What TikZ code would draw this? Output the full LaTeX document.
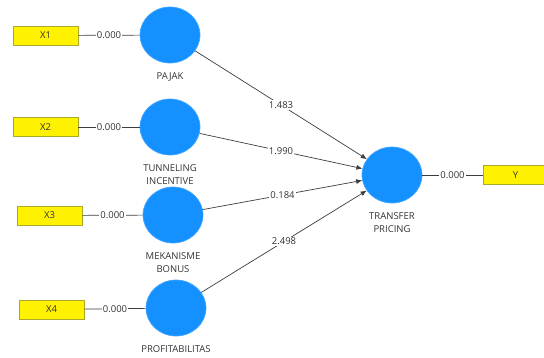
\documentclass[tikz,border=0pt]{standalone}
\usepackage{fontspec}
\setmainfont{Open Sans}
\usepackage{tikz}
\definecolor{lvblue}{RGB}{20,145,255}
\definecolor{boxedge}{RGB}{170,170,40}
\definecolor{linegray}{RGB}{60,60,60}
\definecolor{txtgray}{RGB}{50,50,50}
\tikzstyle{latent} = [ellipse, fill=lvblue, draw=lvblue!80,
    minimum width=60pt, minimum height=56pt, inner sep=0pt]
\tikzstyle{indicator} = [rectangle, fill=yellow, draw=boxedge,
    minimum width=65pt, minimum height=19pt, inner sep=0pt,
    text=txtgray, font=\fontsize{9.5}{10}\selectfont]
\tikzstyle{coef} = [fill=white, inner sep=1pt, text=txtgray,
    font=\fontsize{9.5}{10}\selectfont]
\usetikzlibrary{arrows.meta}
\tikzset{>={Latex[length=6pt,width=5pt]}}
\usetikzlibrary{shapes.geometric}

\begin{document}
\begin{tikzpicture}[x=1pt, y=-1pt, line width=0.7pt, draw=linegray,
    every label/.style={align=center, text=txtgray, inner sep=1pt,
        font=\fontsize{9.5}{12.5}\selectfont}]
\useasboundingbox (0,0) rectangle (544,357);
    %constructs
    \node[latent, label={[label distance=8pt]below:PAJAK}] (pajak) at (170,35) {};
    \node[latent, label={[label distance=8pt]below:TUNNELING\\INCENTIVE}] (tunnel) at (170,127) {};
    \node[latent, label={[label distance=8pt]below:MEKANISME\\BONUS}] (bonus) at (173,215) {};
    \node[latent, label={[label distance=8pt]below:PROFITABILITAS}] (profit) at (176,308) {};
    \node[latent, label={[label distance=8pt]below:TRANSFER\\PRICING}] (tp) at (392,175) {};
    %indicators
    \node[indicator] (x1) at (45.5,35.5) {X1};
    \node[indicator] (x2) at (45.5,127) {X2};
    \node[indicator] (x3) at (49.5,215.5) {X3};
    \node[indicator] (x4) at (51.5,309.5) {X4};
    \node[indicator] (y) at (515.5,175) {Y};
    %loadings
    \draw (x1) -- node[coef] {0.000} (pajak);
    \draw (x2) -- node[coef] {0.000} (tunnel);
    \draw (x3) -- node[coef] {0.000} (bonus);
    \draw (x4) -- node[coef] {0.000} (profit);
    \draw (tp) -- node[coef] {0.000} (y);
    %paths
    \draw[->] (pajak) -- node[coef] {1.483} (tp);
    \draw[->] (tunnel) -- node[coef] {1.990} (tp);
    \draw[->] (bonus) -- node[coef] {0.184} (tp);
    \draw[->] (profit) -- node[coef] {2.498} (tp);
\end{tikzpicture}
\end{document}
